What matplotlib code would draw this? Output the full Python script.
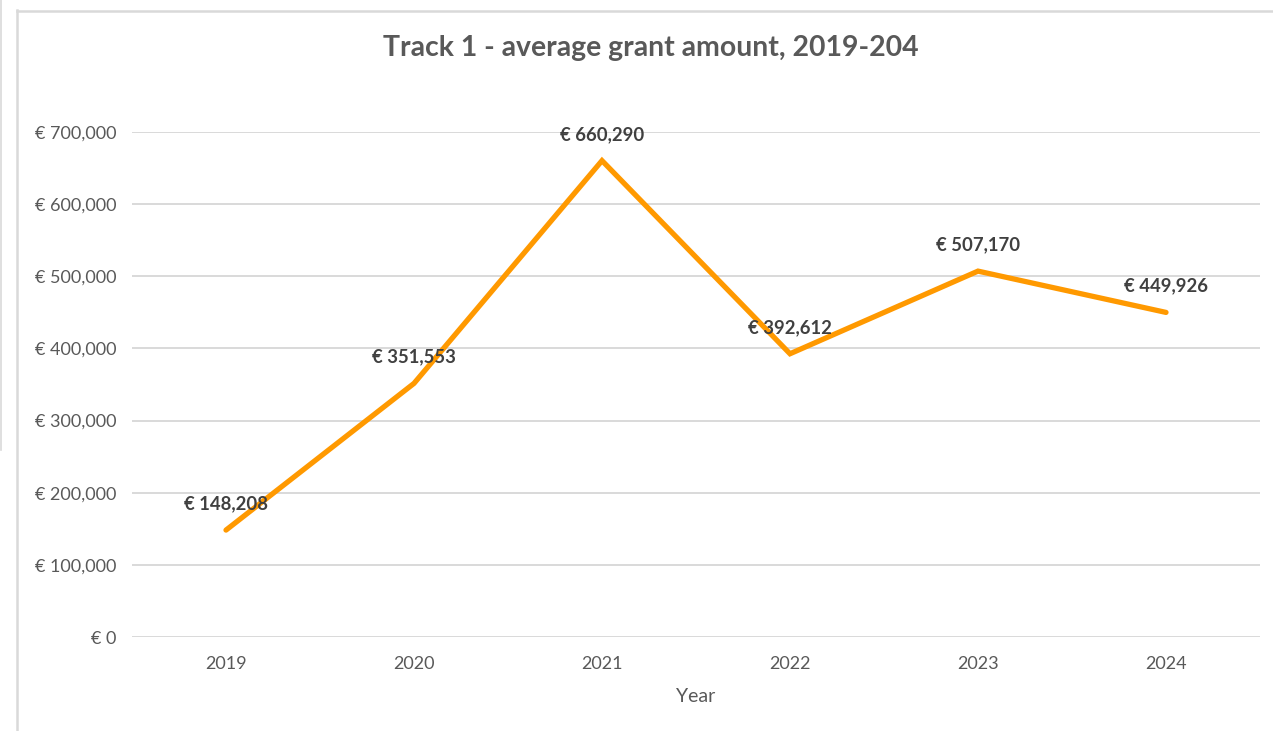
import matplotlib
matplotlib.use("Agg")
import matplotlib.pyplot as plt
from matplotlib.lines import Line2D
from matplotlib.ticker import FuncFormatter

years = ["2019", "2020", "2021", "2022", "2023", "2024"]
amounts = [148208, 351553, 660290, 392612, 507170, 449926]
y_ticks = [0, 100000, 200000, 300000, 400000, 500000, 600000, 700000]
title = "Track 1 - average grant amount, 2019-204"
x_label = "Year"

W, H = 1273, 731
fig = plt.figure(figsize=(W / 100, H / 100), dpi=100)
plt.rcParams['font.family'] = ['Lato', 'DejaVu Sans']

# outer chart borders
border = "#D9D9D9"
fig.add_artist(Line2D([17 / W, 17 / W], [0, 1 - 10 / H], color=border, lw=1.8))
fig.add_artist(Line2D([17 / W, 1], [1 - 11 / H, 1 - 11 / H], color=border, lw=1.8))
fig.add_artist(Line2D([1 / W, 1 / W], [1 - 450 / H, 1], color=border, lw=1.2))

ax = fig.add_axes([132 / W, (H - 637) / H, 1128 / W, 505 / H])
x = list(range(len(years)))
ax.plot(x, amounts, color="#FF9900", lw=3.8, solid_capstyle="round", solid_joinstyle="miter", zorder=3)

ax.set_xlim(-0.5, len(years) - 0.5)
ax.set_ylim(0, 700000)
ax.set_yticks(y_ticks)
ax.yaxis.set_major_formatter(FuncFormatter(lambda v, p: f"€ {int(v):,}"))
ax.set_xticks(x)
ax.set_xticklabels(years)
ax.grid(axis="y", color="#D9D9D9", lw=1.4, zorder=0)
ax.set_axisbelow(True)
for s in ax.spines.values():
    s.set_visible(False)
ax.tick_params(length=0, labelsize=13, colors="#595959", pad=11)
ax.tick_params(axis="x", pad=13.5)
ax.set_xlabel(x_label, fontsize=14, color="#595959", labelpad=12)

for xi, v in zip(x, amounts):
    ax.annotate(f"€ {v:,}", (xi, v), xytext=(0, 19), textcoords="offset points",
                ha="center", va="center", fontsize=13.3, fontweight="bold", color="#404040", zorder=4)

fig.text(651 / W, 1 - 48 / H, title, ha="center", va="center", fontsize=20.4,
         fontweight="bold", color="#595959")

fig.savefig("out.png", dpi=100, facecolor="white")
